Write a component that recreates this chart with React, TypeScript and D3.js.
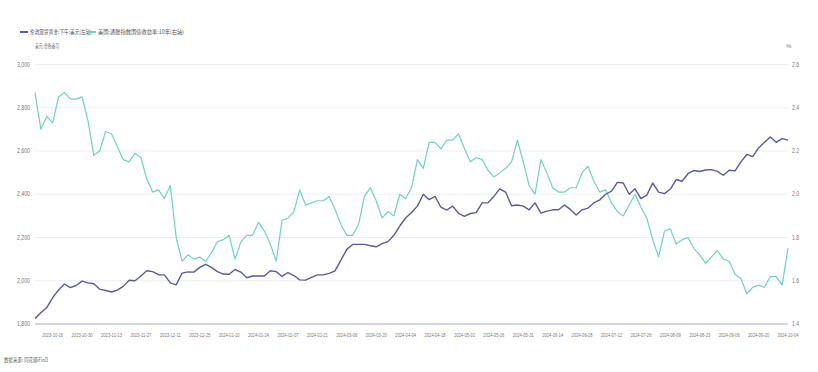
import React from "react";
import { scaleLinear, line } from "d3";

// trading-day index 0..256, values sampled every 2 trading days
const tickLabels = [
  "2023-10-16", "2023-10-30", "2023-11-13", "2023-11-27", "2023-12-11", "2023-12-25",
  "2024-01-10", "2024-01-24", "2024-02-07", "2024-02-21", "2024-03-06", "2024-03-20",
  "2024-04-04", "2024-04-18", "2024-05-02", "2024-05-16", "2024-05-31", "2024-06-14",
  "2024-06-28", "2024-07-12", "2024-07-26", "2024-08-09", "2024-08-23", "2024-09-06",
  "2024-09-20", "2024-10-04",
];
const firstTickIndex = 6;
const tickStep = 10;
const lastIndex = 256;
const sampleStep = 2;

const goldPrice = [
  1826, 1852, 1876, 1922, 1957, 1985, 1968, 1978, 1998, 1990,
  1986, 1961, 1955, 1948, 1957, 1974, 2002, 2000, 2022, 2046,
  2042, 2028, 2027, 1990, 1981, 2035, 2041, 2040, 2062, 2076,
  2062, 2042, 2031, 2030, 2052, 2040, 2014, 2022, 2022, 2022,
  2046, 2042, 2020, 2038, 2024, 2004, 2003, 2016, 2027, 2027,
  2034, 2046, 2095, 2145, 2168, 2168, 2168, 2162, 2157, 2172,
  2181, 2210, 2253, 2290, 2316, 2345, 2400, 2375, 2390, 2340,
  2327, 2345, 2312, 2298, 2311, 2315, 2360, 2360, 2390, 2425,
  2410, 2347, 2350, 2345, 2328, 2360, 2313, 2322, 2328, 2328,
  2350, 2330, 2304, 2328, 2336, 2360, 2374, 2400, 2414, 2455,
  2452, 2400, 2425, 2380, 2396, 2452, 2410, 2403, 2424, 2468,
  2460, 2495, 2510, 2505, 2512, 2514, 2506, 2488, 2511, 2508,
  2550, 2584, 2574, 2614, 2640, 2665, 2640, 2657, 2650,
];

const tipsYield = [
  2.47, 2.3, 2.36, 2.33, 2.45, 2.47, 2.44, 2.44, 2.45, 2.34,
  2.18, 2.2, 2.29, 2.28, 2.22, 2.16, 2.15, 2.19, 2.17, 2.07,
  2.01, 2.02, 1.98, 2.04, 1.8, 1.69, 1.72, 1.7, 1.71, 1.69,
  1.73, 1.78, 1.79, 1.81, 1.7, 1.78, 1.81, 1.81, 1.87, 1.83,
  1.77, 1.69, 1.88, 1.89, 1.92, 2.02, 1.95, 1.96, 1.97, 1.97,
  1.99, 1.93, 1.86, 1.81, 1.81, 1.86, 1.99, 2.03, 1.97, 1.89,
  1.92, 1.9, 2.0, 1.98, 2.03, 2.16, 2.12, 2.24, 2.24, 2.21,
  2.25, 2.25, 2.28, 2.21, 2.15, 2.17, 2.16, 2.11, 2.08, 2.1,
  2.12, 2.15, 2.25, 2.15, 2.04, 2.0, 2.16, 2.1, 2.03, 2.01,
  2.01, 2.03, 2.03, 2.1, 2.13, 2.06, 2.01, 2.02, 1.96, 1.92,
  1.9, 1.95, 2.0, 1.94, 1.89, 1.79, 1.71, 1.83, 1.84, 1.77,
  1.79, 1.8, 1.75, 1.72, 1.68, 1.71, 1.74, 1.7, 1.69, 1.63,
  1.61, 1.54, 1.57, 1.58, 1.57, 1.62, 1.62, 1.58, 1.75,
];

const leftTicks = [1800, 2000, 2200, 2400, 2600, 2800, 3000];
const rightTicks = [1.4, 1.6, 1.8, 2.0, 2.2, 2.4, 2.6];

const legendNames = ["伦敦现货黄金:下午:美元(左轴)", "美国:通胀指数国债收益率:10年(右轴)"];
const colors = ["#5a5b9c", "#6dd3c2"];

const W = 818;
const H = 372;
const M = { left: 35, right: 30, top: 64.5, bottom: 48 };

export default function App() {
  const x = scaleLinear().domain([0, lastIndex]).range([M.left, W - M.right]);
  const yL = scaleLinear().domain([1800, 3000]).range([H - M.bottom, M.top]);
  const yR = scaleLinear().domain([1.4, 2.6]).range([H - M.bottom, M.top]);

  const goldLine = line<number>()
    .x((d, i) => x(i * sampleStep))
    .y((d) => yL(d));
  const tipsLine = line<number>()
    .x((d, i) => x(i * sampleStep))
    .y((d) => yR(d));

  const font = "'Noto Sans CJK SC', 'Noto Sans', sans-serif";
  const numFont = "'Liberation Sans', Arial, sans-serif";

  return (
    <svg
      width={W}
      height={H}
      style={{ position: "absolute", left: 0, top: 0, background: "#fff" }}
      fontFamily={font}
    >
      {/* legend */}
      <g transform="translate(20,32)" fontSize={5.5} fill="#555">
        <line x1={0} x2={8} y1={0} y2={0} stroke={colors[0]} strokeWidth={2} />
        <text x={10} y={2} textLength={62} lengthAdjust="spacingAndGlyphs">{legendNames[0]}</text>
        <line x1={68} x2={76} y1={0} y2={0} stroke={colors[1]} strokeWidth={2} />
        <text x={78} y={2} textLength={86} lengthAdjust="spacingAndGlyphs">{legendNames[1]}</text>
      </g>
      <text x={35} y={48} fontSize={5.5} fill="#777" textLength={24} lengthAdjust="spacingAndGlyphs">
        美元/金衡盎司
      </text>
      <text x={786} y={48} fontSize={6} fill="#777" fontFamily={numFont}>%</text>

      {/* grid */}
      {leftTicks.slice(1).map((t) => (
        <line key={t} x1={M.left} x2={W - M.right} y1={yL(t)} y2={yL(t)} stroke="#eeeef2" strokeWidth={1} />
      ))}
      <line
        x1={M.left} x2={W - M.right}
        y1={yL(1800)} y2={yL(1800)}
        stroke="#a9acd0" strokeWidth={1}
      />

      {/* left axis */}
      {leftTicks.map((t) => (
        <text key={t} x={30} y={yL(t) + 2} textAnchor="end" fontSize={6.5} fill="#777"
          fontFamily={numFont} textLength={13} lengthAdjust="spacingAndGlyphs">
          {t.toLocaleString("en-US")}
        </text>
      ))}
      {/* right axis */}
      {rightTicks.map((t) => (
        <text key={t} x={792} y={yR(t) + 2} fontSize={6.5} fill="#777"
          fontFamily={numFont} textLength={7} lengthAdjust="spacingAndGlyphs">
          {t.toFixed(1)}
        </text>
      ))}

      {/* x axis labels */}
      {tickLabels.map((d, i) => (
        <text key={d} x={x(firstTickIndex + i * tickStep)} y={337} textAnchor="middle"
          fontSize={5.5} fill="#777" fontFamily={numFont} textLength={21} lengthAdjust="spacingAndGlyphs">
          {d}
        </text>
      ))}

      {/* series */}
      <path d={tipsLine(tipsYield) || ""} fill="none" stroke={colors[1]} strokeWidth={1.2} strokeLinejoin="round" />
      <path d={goldLine(goldPrice) || ""} fill="none" stroke={colors[0]} strokeWidth={1.4} strokeLinejoin="round" />

      <text x={4} y={362} fontSize={5.5} fill="#666" textLength={44} lengthAdjust="spacingAndGlyphs">
        数据来源: 同花顺iFinD
      </text>
    </svg>
  );
}
